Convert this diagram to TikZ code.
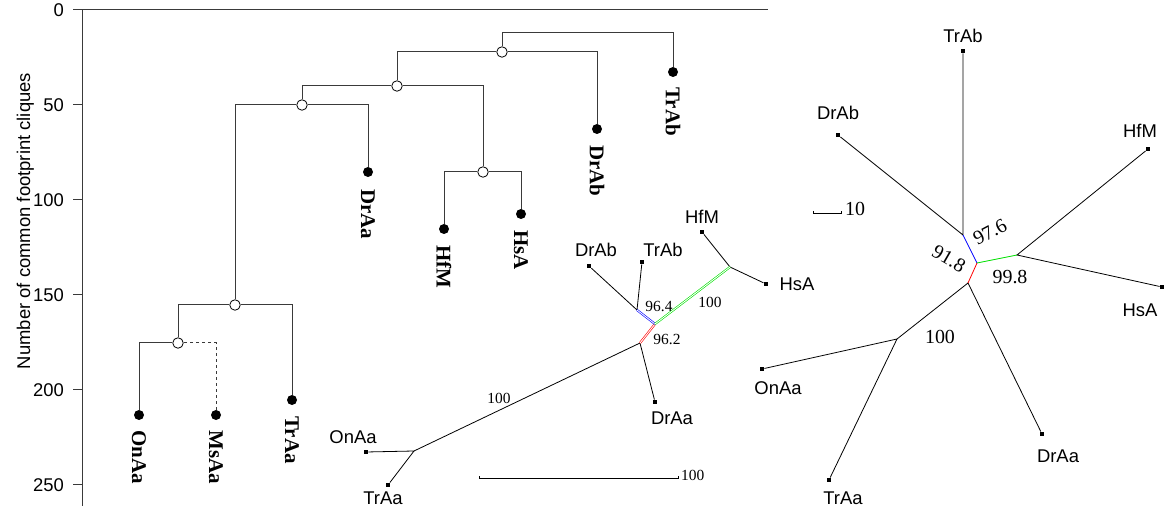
\documentclass[tikz,border=0pt]{standalone}
\usepackage{fontspec}
\setmainfont{Liberation Serif}
\setsansfont{Liberation Sans}
\usepackage{tikz}
\usetikzlibrary{positioning}
\definecolor{treegray}{HTML}{3A3A3A}
\definecolor{bootred}{HTML}{FF0000}
\definecolor{bootblue}{HTML}{0000FF}
\definecolor{bootgreen}{HTML}{00E000}
\tikzset{
  axisline/.style={draw=treegray,line width=1bp},
  ticklab/.style={font=\fontsize{18.5}{20}\selectfont\sffamily,anchor=east,inner sep=0pt},
  leafdot/.style={circle,fill=black,inner sep=0pt,minimum size=10bp},
  opennode/.style={circle,draw=black,fill=white,line width=0.8bp,inner sep=0pt,minimum size=10.5bp},
  tbranch/.style={draw=treegray,line width=1bp},
  leaflab/.style={font=\fontsize{21}{21}\selectfont\bfseries,rotate=-90,anchor=west,inner sep=0pt},
  tipsq/.style={rectangle,fill=black,inner sep=0pt,minimum size=4.5bp},
  nbranch/.style={draw=black,line width=0.8bp},
  taxon/.style={font=\fontsize{18.5}{20}\selectfont\sffamily,inner sep=0pt},
  boot/.style={font=\fontsize{15.5}{16}\selectfont,inner sep=0pt},
  bigboot/.style={font=\fontsize{20}{20}\selectfont,inner sep=0pt},
  dbl/.style={draw=#1,double=white,line width=0.6bp,double distance=0.9bp}
}
\begin{document}
\begin{tikzpicture}[x=1bp,y=-1bp]
  \useasboundingbox (0,0) rectangle (1168,511);

  % Axis of the dendrogram
  \draw[axisline] (82,10) -- (82,506);
  \draw[axisline] (82,10) -- (768,10);
  \foreach \v in {0,50,...,250} {
    \draw[axisline] (73,{10+1.9*\v}) -- (82,{10+1.9*\v});
    \node[ticklab] (t\v) at (64,{10+1.9*\v}) {\v};
  }
  \node[font=\fontsize{18.5}{20}\selectfont\sffamily,rotate=90,anchor=base,inner sep=0pt]
    (ylab) at (30,221) {Number of common footprint cliques};

  % Dendrogram: leaves
  \node[leafdot] (lTrAb) at (673,72) {};
  \node[leafdot] (lDrAb) at (597,129) {};
  \node[leafdot] (lDrAa) at (368,172) {};
  \node[leafdot] (lHfM) at (444,229) {};
  \node[leafdot] (lHsA) at (521,214) {};
  \node[leafdot] (lTrAa) at (292,400) {};
  \node[leafdot] (lOnAa) at (139,415) {};
  \node[leafdot] (lMsAa) at (216,415) {};

  % Dendrogram: merges
  \coordinate (root) at (502,33);
  \node[opennode] (nA) at (502,52) {};
  \node[opennode] (nB) at (397,86) {};
  \node[opennode] (nC) at (302,105) {};
  \node[opennode] (nD) at (483,172) {};
  \node[opennode] (nE) at (235,305) {};
  \node[opennode] (nF) at (178,343) {};

  \draw[tbranch] (nA) -- (root) -| (lTrAb);
  \draw[tbranch] (nB) |- (nA);
  \draw[tbranch] (lDrAb) |- (nA);
  \draw[tbranch] (nC) |- (nB);
  \draw[tbranch] (nD) |- (nB);
  \draw[tbranch] (nE) |- (nC);
  \draw[tbranch] (lDrAa) |- (nC);
  \draw[tbranch] (lHfM) |- (nD);
  \draw[tbranch] (lHsA) |- (nD);
  \draw[tbranch] (nF) |- (nE);
  \draw[tbranch] (lTrAa) |- (nE);
  \draw[tbranch] (lOnAa) |- (nF);
  \draw[tbranch,dashed] (lMsAa) |- (nF);

  \foreach \t/\g in {TrAb/10,DrAb/11,DrAa/12,HfM/11,HsA/11,TrAa/11,OnAa/10,MsAa/10}
    \node[leaflab] (x\t) at ([yshift=-\g bp]l\t.south) {\t};

  % Middle network
  \node[tipsq] (mOnAa) at (366,452) {};
  \node[tipsq] (mTrAa) at (388,485) {};
  \node[tipsq] (mDrAa) at (655,402) {};
  \node[tipsq] (mDrAb) at (589,266) {};
  \node[tipsq] (mTrAb) at (642,262) {};
  \node[tipsq] (mHfM) at (702,232) {};
  \node[tipsq] (mHsA) at (766,284) {};
  \coordinate (m1) at (414,451);
  \coordinate (m2) at (640,343);
  \coordinate (m3) at (655,324);
  \coordinate (m4) at (637,310);
  \coordinate (m5) at (730,267);

  \draw[nbranch] (mOnAa) -- (m1) -- (mTrAa);
  \draw[nbranch] (m1) -- (m2) -- (mDrAa);
  \draw[nbranch] (mDrAb) -- (m4) -- (mTrAb);
  \draw[nbranch] (mHfM) -- (m5) -- (mHsA);
  \draw[dbl=bootred] (m2) -- (m3);
  \draw[dbl=bootblue] (m3) -- (m4);
  \draw[dbl=bootgreen] (m3) -- (m5);

  \node[taxon] (mlOnAa) at (353,437) {OnAa};
  \node[taxon] (mlTrAa) at (383,498) {TrAa};
  \node[taxon] (mlDrAa) at (672,418) {DrAa};
  \node[taxon] (mlDrAb) at (596,250) {DrAb};
  \node[taxon] (mlTrAb) at (663,250) {TrAb};
  \node[taxon] (mlHfM) at (702,217) {HfM};
  \node[taxon] (mlHsA) at (797,284) {HsA};
  \node[boot] (mb1) at (499,398) {100};
  \node[boot] (mb2) at (667,339) {96.2};
  \node[boot] (mb3) at (659,306) {96.4};
  \node[boot] (mb4) at (710,302) {100};

  \coordinate (sbL) at (479,478);
  \coordinate (sbR) at (678,478);
  \draw[nbranch] (sbL) ++(0,-2) -- (sbL) -- (sbR) -- ++(0,-2);
  \node[boot,anchor=west] (sbLab) at ([xshift=3bp,yshift=3bp]sbR) {100};

  % Right network
  \node[tipsq] (rTrAb) at (963,51) {};
  \node[tipsq] (rDrAb) at (838,135) {};
  \node[tipsq] (rHfM) at (1148,149) {};
  \node[tipsq] (rHsA) at (1162,287) {};
  \node[tipsq] (rDrAa) at (1042,434) {};
  \node[tipsq] (rOnAa) at (762,369) {};
  \node[tipsq] (rTrAa) at (829,480) {};
  \coordinate (r1) at (963,235);
  \coordinate (r2) at (977,263);
  \coordinate (r3) at (1017,255);
  \coordinate (r4) at (968,283);
  \coordinate (r5) at (897,339);

  \draw[nbranch] (rTrAb) -- (r1) -- (rDrAb);
  \draw[nbranch] (rHfM) -- (r3) -- (rHsA);
  \draw[nbranch] (rDrAa) -- (r4) -- (r5);
  \draw[nbranch] (rOnAa) -- (r5) -- (rTrAa);
  \draw[nbranch,bootblue] (r1) -- (r2);
  \draw[nbranch,bootgreen] (r2) -- (r3);
  \draw[nbranch,bootred] (r2) -- (r4);

  \node[taxon] (rlTrAb) at (963,36) {TrAb};
  \node[taxon] (rlDrAb) at (838,113) {DrAb};
  \node[taxon] (rlHfM) at (1140,131) {HfM};
  \node[taxon] (rlHsA) at (1140,310) {HsA};
  \node[taxon] (rlDrAa) at (1058,456) {DrAa};
  \node[taxon] (rlOnAa) at (778,388) {OnAa};
  \node[taxon] (rlTrAa) at (843,498) {TrAa};
  \node[bigboot,rotate=28] (rb1) at (990,232) {97.6};
  \node[bigboot,rotate=-30] (rb2) at (949,259) {91.8};
  \node[bigboot] (rb3) at (1010,277) {99.8};
  \node[bigboot] (rb4) at (940,337) {100};

  \coordinate (rsL) at (813,213);
  \coordinate (rsR) at (841,213);
  \draw[nbranch] (rsL) ++(0,-2) -- (rsL) -- (rsR) -- ++(0,-2);
  \node[bigboot,anchor=west] (rsLab) at ([xshift=4bp,yshift=4bp]rsR) {10};
\end{tikzpicture}
\end{document}
